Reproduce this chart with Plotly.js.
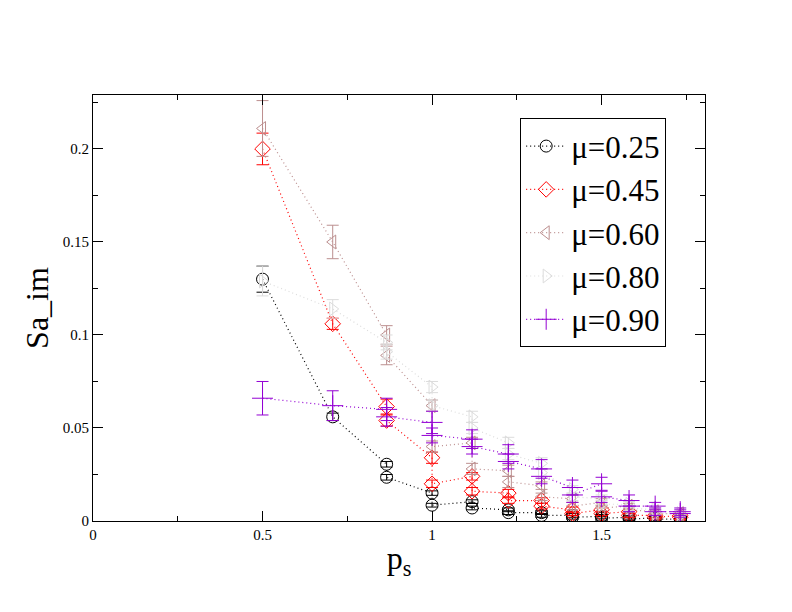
<!DOCTYPE html>
<html>
<head>
<meta charset="utf-8">
<script src="https://cdn.plot.ly/plotly-3.0.1.min.js"></script>
<style>
  body { margin: 0; background: #fff; }
  #chart { width: 792px; height: 612px; }
</style>
</head>
<body>
<div id="chart"></div>
<script>
// p_s values, two samples per point beyond 0.707
const ps = [0.5, 0.707, 0.866, 0.866, 1.0, 1.0, 1.118, 1.118, 1.225, 1.225, 1.323, 1.323,
            1.414, 1.414, 1.5, 1.5, 1.581, 1.581, 1.658, 1.658, 1.732, 1.732];

const mu025 = [0.130, 0.056, 0.0305, 0.0235, 0.015, 0.0085, 0.0104, 0.007, 0.006, 0.0045, 0.0045, 0.003,
               0.003, 0.002, 0.0025, 0.0015, 0.002, 0.0012, 0.0015, 0.001, 0.001, 0.0007];
const err025 = [0.007, 0.002, 0.0015, 0.0015, 0.0012, 0.001, 0.001, 0.001, 0.001, 0.001, 0.001, 0.001,
                0.001, 0.001, 0.001, 0.001, 0.001, 0.001, 0.001, 0.001, 0.001, 0.001];

const mu045 = [0.200, 0.106, 0.0615, 0.054, 0.034, 0.020, 0.024, 0.016, 0.015, 0.011, 0.011, 0.008,
               0.006, 0.004, 0.006, 0.004, 0.005, 0.003, 0.003, 0.002, 0.003, 0.002];
const err045 = [0.0085, 0.003, 0.004, 0.003, 0.003, 0.002, 0.002, 0.002, 0.002, 0.0015, 0.0015, 0.0015,
                0.0015, 0.001, 0.001, 0.001, 0.001, 0.001, 0.001, 0.001, 0.001, 0.001];

const mu060 = [0.211, 0.150, 0.100, 0.089, 0.062, 0.040, 0.042, 0.028, 0.027, 0.021, 0.019, 0.013,
               0.012, 0.008, 0.010, 0.007, 0.008, 0.006, 0.005, 0.004, 0.004, 0.003];
const err060 = [0.015, 0.009, 0.005, 0.005, 0.003, 0.003, 0.003, 0.003, 0.003, 0.003, 0.002, 0.002,
                0.002, 0.002, 0.002, 0.0015, 0.0015, 0.001, 0.001, 0.001, 0.001, 0.001];

const mu080 = [0.129, 0.114, 0.096, 0.091, 0.072, 0.062, 0.056, 0.050, 0.042, 0.036, 0.031, 0.026,
               0.017, 0.013, 0.012, 0.009, 0.009, 0.007, 0.006, 0.004, 0.004, 0.003];
const err080 = [0.008, 0.005, 0.004, 0.004, 0.003, 0.003, 0.003, 0.003, 0.003, 0.003, 0.003, 0.002,
                0.002, 0.002, 0.002, 0.002, 0.0015, 0.0015, 0.001, 0.001, 0.001, 0.001];

const mu090 = [0.066, 0.062, 0.060, 0.056, 0.053, 0.046, 0.044, 0.040, 0.036, 0.032, 0.028, 0.024,
               0.018, 0.014, 0.020, 0.013, 0.011, 0.008, 0.008, 0.005, 0.005, 0.004];
const err090 = [0.009, 0.008, 0.006, 0.005, 0.006, 0.004, 0.005, 0.004, 0.005, 0.004, 0.005, 0.004,
                0.004, 0.004, 0.0035, 0.003, 0.003, 0.003, 0.002, 0.002, 0.002, 0.002];

const labels = ["μ=0.25", "μ=0.45", "μ=0.60", "μ=0.80", "μ=0.90"];
const colors = ["#000000", "#ff0000", "#bc8f8f", "#dcdcdc", "#9400d3"];
const symbols = ["circle-open", "diamond-open", "triangle-left-open", "triangle-right-open", "cross-thin-open"];
const values = [mu025, mu045, mu060, mu080, mu090];
const errors = [err025, err045, err060, err080, err090];

const serif = "Liberation Serif";

let traces = values.map((y, i) => ({
  x: ps,
  y: y,
  name: labels[i],
  type: "scatter",
  mode: "lines+markers",
  line: { color: colors[i], width: 1.2, dash: "1px,3px" },
  marker: { symbol: symbols[i], size: i == 4 ? 15 : 12, color: colors[i], line: { color: colors[i], width: 1 } },
  error_y: { type: "data", array: errors[i], visible: true, color: colors[i], thickness: 1, width: 6 },
}));

let axisFont = { family: serif, size: 15, color: "#000" };

Plotly.newPlot("chart", traces, {
  width: 792,
  height: 612,
  margin: { l: 93, r: 87, t: 95, b: 91 },
  paper_bgcolor: "#fff",
  plot_bgcolor: "#fff",
  showlegend: true,
  font: axisFont,
  xaxis: {
    range: [0, 1.805],
    tickvals: [0, 0.5, 1, 1.5],
    ticktext: ["0", "0.5", "1", "1.5"],
    ticks: "inside",
    ticklen: 10,
    tickcolor: "#000",
    minor: { ticks: "inside", ticklen: 5, dtick: 0.25, tick0: 0, tickcolor: "#000" },
    showline: true,
    linecolor: "#000",
    linewidth: 1,
    mirror: "allticks",
    showgrid: false,
    zeroline: false,
    tickfont: axisFont,
    title: { text: "p<sub>s</sub>", font: { family: serif, size: 32, color: "#000" }, standoff: 4 },
  },
  yaxis: {
    range: [0, 0.229],
    tickvals: [0, 0.05, 0.1, 0.15, 0.2],
    ticktext: ["0", "0.05", "0.1", "0.15", "0.2"],
    ticks: "inside",
    ticklen: 10,
    tickcolor: "#000",
    minor: { ticks: "inside", ticklen: 5, dtick: 0.025, tick0: 0, tickcolor: "#000" },
    showline: true,
    linecolor: "#000",
    linewidth: 1,
    mirror: "allticks",
    showgrid: false,
    zeroline: false,
    tickfont: axisFont,
    title: { text: "Sa_im", font: { family: serif, size: 32, color: "#000" }, standoff: 4 },
  },
  legend: {
    x: 0.698,
    y: 0.945,
    xanchor: "left",
    yanchor: "top",
    bgcolor: "#fff",
    bordercolor: "#000",
    borderwidth: 1,
    itemwidth: 40,
    tracegroupgap: 0,
    font: { family: serif, size: 31, color: "#000" },
  },
}, { displayModeBar: false, staticPlot: true });
</script>
</body>
</html>
